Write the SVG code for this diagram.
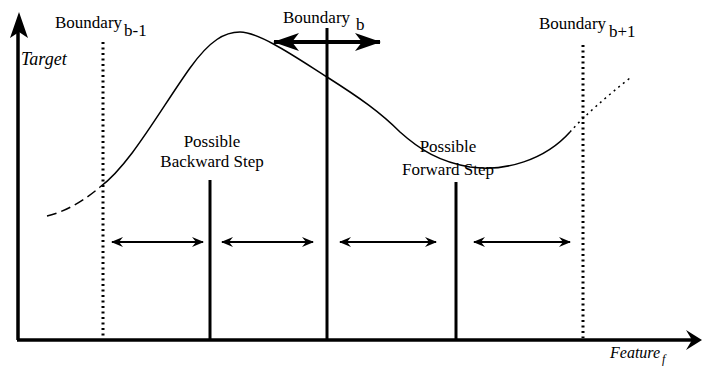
<svg xmlns="http://www.w3.org/2000/svg" width="702" height="366" viewBox="0 0 702 366">
<style>
  .lbl { font-family: "Liberation Serif", "Times New Roman", serif; font-size: 17px; fill: #000; }
  .it { font-family: "Liberation Serif", "Times New Roman", serif; font-style: italic; fill: #000; }
  .axis { stroke: #000; stroke-width: 3.5; fill: none; }
  .solid { stroke: #000; stroke-width: 3; fill: none; }
  .dot { stroke: #000; stroke-width: 3; fill: none; stroke-dasharray: 2 3.5; }
  .small { stroke: #000; stroke-width: 1.8; fill: none; marker-start: url(#sh); marker-end: url(#sh); }
  .curve { stroke: #000; stroke-width: 1.5; fill: none; }
</style>
<defs>
  <marker id="sh" markerUnits="userSpaceOnUse" viewBox="0 0 12 10" refX="11" refY="5" markerWidth="12" markerHeight="10" orient="auto-start-reverse">
    <path d="M0,0 L12,5 L0,10 L4,5 z" fill="#000"/>
  </marker>
  <marker id="bh" markerUnits="userSpaceOnUse" viewBox="0 0 26 18" refX="25" refY="9" markerWidth="26" markerHeight="18" orient="auto-start-reverse">
    <path d="M0,0 L26,9 L0,18 L7,9 z" fill="#000"/>
  </marker>
</defs>
<g id="axes">
  <line class="axis" x1="18" y1="340" x2="18" y2="30"/>
  <polygon points="19,12 28,38 19,32 10,38" fill="#000"/>
  <line class="axis" x1="17" y1="340" x2="692" y2="340"/>
  <polygon points="702,340 686,350 692,340 686,330" fill="#000"/>
</g>
<g id="curve">
  <path class="curve" d="M 47 216 C 65 212, 85 200, 100 187" stroke-dasharray="10 5"/>
  <path class="curve" d="M 100 187 C 130 165, 160 110, 190 68 C 210 40, 225 32, 240 32 C 260 32, 300 60, 327 77 C 360 98, 380 112, 400 132 C 420 150, 440 162, 470 167 C 505 172, 545 160, 570 132"/>
  <path class="curve" d="M 570 132 C 585 115, 605 98, 630 78" stroke-dasharray="2 4"/>
</g>
<g id="boundary-b-1">
  <line class="dot" x1="103" y1="42" x2="103" y2="338"/>
  <text class="lbl" x="55" y="28">Boundary</text>
  <text class="lbl" x="124" y="36">b-1</text>
</g>
<g id="boundary-b">
  <line class="solid" x1="327" y1="28" x2="327" y2="340"/>
  <text class="lbl" x="283" y="23">Boundary</text>
  <text class="lbl" x="356" y="30">b</text>
</g>
<g id="boundary-b+1">
  <line class="dot" x1="583" y1="45" x2="583" y2="338"/>
  <text class="lbl" x="539" y="29">Boundary</text>
  <text class="lbl" x="609" y="37">b+1</text>
</g>
<g id="backward-step">
  <line class="solid" x1="210" y1="180" x2="210" y2="340"/>
  <text class="lbl" x="212" y="147" text-anchor="middle">Possible</text>
  <text class="lbl" x="212" y="167" text-anchor="middle">Backward Step</text>
</g>
<g id="forward-step">
  <line class="solid" x1="456" y1="182" x2="456" y2="340"/>
  <text class="lbl" x="448" y="152" text-anchor="middle">Possible</text>
  <text class="lbl" x="448" y="175" text-anchor="middle">Forward Step</text>
</g>
<g id="labels">
  <text class="it" x="21" y="65" style="font-size:18px">Target</text>
  <text class="it" x="610" y="358" style="font-size:16px">Feature</text>
  <text class="it" x="662" y="363" style="font-size:12px">f</text>
</g>
<g id="connectors">
  <line stroke="#000" stroke-width="4" x1="274" y1="42" x2="380" y2="42" marker-start="url(#bh)" marker-end="url(#bh)"/>
  <line class="small" x1="112" y1="242" x2="203" y2="242"/>
  <line class="small" x1="222" y1="242" x2="313" y2="242"/>
  <line class="small" x1="340" y1="242" x2="436" y2="242"/>
  <line class="small" x1="474" y1="242" x2="570" y2="242"/>
</g>
</svg>
